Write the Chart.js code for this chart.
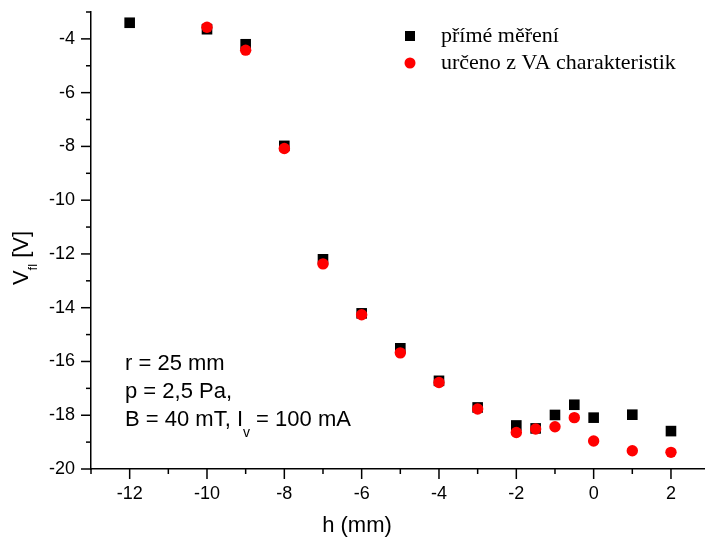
<!DOCTYPE html>
<html>
<head>
<meta charset="utf-8">
<script src="https://cdn.jsdelivr.net/npm/chart.js@4.4.1/dist/chart.umd.min.js"></script>
<style>
  html, body { margin: 0; padding: 0; background: #fff; overflow: hidden; }
  #wrap { width: 705px; height: 540px; }
  canvas { display: block; }
</style>
</head>
<body>
<div id="wrap"><canvas id="myChart"></canvas></div>
<script>
// h positions (mm)
const hValues = [-12, -10, -9, -8, -7, -6, -5, -4, -3, -2, -1.5, -1, -0.5, 0, 1, 2];
// direct measurement (black squares)
const vDirect = [-3.40, -3.64, -4.20, -7.98, -12.20, -14.21, -15.51, -16.72, -17.71, -18.38, -18.49, -17.99, -17.61, -18.09, -17.98, -18.59];
// from VA characteristics (red circles), no value at -12
const hVA = [-10, -9, -8, -7, -6, -5, -4, -3, -2, -1.5, -1, -0.5, 0, 1, 2];
const vVA = [-3.57, -4.42, -8.08, -12.37, -14.26, -15.68, -16.78, -17.77, -18.64, -18.51, -18.43, -18.09, -18.96, -19.32, -19.38];

const xTicks = [-12, -10, -8, -6, -4, -2, 0, 2];
const yTicks = [-4, -6, -8, -10, -12, -14, -16, -18, -20];
const notes = ['r = 25 mm', 'p = 2,5 Pa,'];

const sans = "'Liberation Sans', Arial, sans-serif";
const serif = "'Liberation Serif', 'Times New Roman', serif";

function toPoints(xs, ys) {
    return xs.map((x, i) => ({ x: x, y: ys[i] }));
}

// minor + major tick marks, legend and texts
const decor = {
    id: 'decor',
    afterDraw(chart) {
        const ctx = chart.ctx;
        const xs = chart.scales.x, ys = chart.scales.y;
        const area = chart.chartArea;
        ctx.save();
        ctx.strokeStyle = '#000';
        ctx.lineWidth = 1.5;
        for (let v = Math.ceil(xs.min); v <= xs.max; v++) {
            const px = xs.getPixelForValue(v);
            const len = v % 2 === 0 ? 10 : 5;
            ctx.beginPath();
            ctx.moveTo(px, area.bottom);
            ctx.lineTo(px, area.bottom + len);
            ctx.stroke();
        }
        for (let v = Math.ceil(ys.min); v <= ys.max; v++) {
            const py = ys.getPixelForValue(v);
            const len = v % 2 === 0 ? 10 : 5;
            ctx.beginPath();
            ctx.moveTo(area.left, py);
            ctx.lineTo(area.left - len, py);
            ctx.stroke();
        }

        // legend
        const ds = chart.data.datasets;
        ctx.textBaseline = 'middle';
        ctx.textAlign = 'left';
        ctx.font = '22px ' + serif;
        ctx.fillStyle = '#000';
        ctx.fillRect(405, 31, 10, 10);
        ctx.fillText(ds[0].label, 441, 36);
        ctx.fillStyle = '#ff0000';
        ctx.beginPath();
        ctx.arc(410, 63, 5.5, 0, Math.PI * 2);
        ctx.fill();
        ctx.fillStyle = '#000';
        ctx.fillText(ds[1].label, 441, 63);

        // parameter notes
        ctx.font = '22px ' + sans;
        ctx.fillText(notes[0], 125, 364);
        ctx.fillText(notes[1], 125, 392);
        let x = 125;
        const p1 = 'B = 40 mT, I';
        ctx.fillText(p1, x, 420);
        x += ctx.measureText(p1).width;
        ctx.font = '14px ' + sans;
        ctx.fillText('v', x, 433);
        x += ctx.measureText('v').width;
        ctx.font = '22px ' + sans;
        ctx.fillText(' = 100 mA', x, 420);

        // axis titles
        ctx.textAlign = 'center';
        ctx.fillText('h (mm)', 357, 526);

        ctx.translate(22, 258);
        ctx.rotate(-Math.PI / 2);
        ctx.textAlign = 'left';
        ctx.font = '22px ' + sans;
        const wV = ctx.measureText('V').width;
        const wB = ctx.measureText(' [V]').width;
        ctx.font = '13px ' + sans;
        const wS = ctx.measureText('fl').width;
        let tx = -(wV + wS + wB) / 2;
        ctx.font = '22px ' + sans;
        ctx.fillText('V', tx, 0);
        tx += wV;
        ctx.font = '13px ' + sans;
        ctx.fillText('fl', tx, 11);
        tx += wS;
        ctx.font = '22px ' + sans;
        ctx.fillText(' [V]', tx, 0);
        ctx.restore();
    }
};

const ctx = document.getElementById('myChart').getContext('2d');
const myChart = new Chart(ctx, {
    type: 'scatter',
    data: {
        datasets: [{
            label: 'přímé měření',
            data: toPoints(hValues, vDirect),
            pointStyle: 'rect',
            pointRadius: 7.5,
            pointBorderWidth: 0,
            backgroundColor: '#000',
            borderColor: '#000',
            order: 2
        }, {
            label: 'určeno z VA charakteristik',
            data: toPoints(hVA, vVA),
            pointStyle: 'circle',
            pointRadius: 5.7,
            pointBorderWidth: 0,
            backgroundColor: '#ff0000',
            borderColor: '#ff0000',
            order: 1
        }]
    },
    options: {
        responsive: true,
        maintainAspectRatio: false,
        animation: false,
        layout: { autoPadding: false, padding: { top: 12, right: 0, left: 0, bottom: 0 } },
        plugins: {
            legend: { display: false },
            tooltip: { enabled: false }
        },
        scales: {
            x: {
                type: 'linear',
                min: -13,
                max: 2.88,
                afterBuildTicks: (s) => { s.ticks = xTicks.map(v => ({ value: v })); },
                afterFit: (s) => {
                    s.height = 71;
                    s.paddingLeft = 0;
                    s.paddingRight = 0;
                },
                grid: { display: false, drawTicks: false },
                border: { display: true, color: '#000', width: 1.5 },
                ticks: {
                    padding: 14,
                    color: '#000',
                    maxRotation: 0,
                    font: { family: sans, size: 18 }
                }
            },
            y: {
                type: 'linear',
                min: -20,
                max: -3,
                afterBuildTicks: (s) => { s.ticks = yTicks.map(v => ({ value: v })); },
                afterFit: (s) => {
                    s.width = 91;
                    s.paddingTop = 0;
                    s.paddingBottom = 0;
                },
                grid: { display: false, drawTicks: false },
                border: { display: true, color: '#000', width: 1.5 },
                ticks: {
                    padding: 16,
                    color: '#000',
                    font: { family: sans, size: 18 }
                }
            }
        }
    },
    plugins: [decor]
});
</script>
</body>
</html>
